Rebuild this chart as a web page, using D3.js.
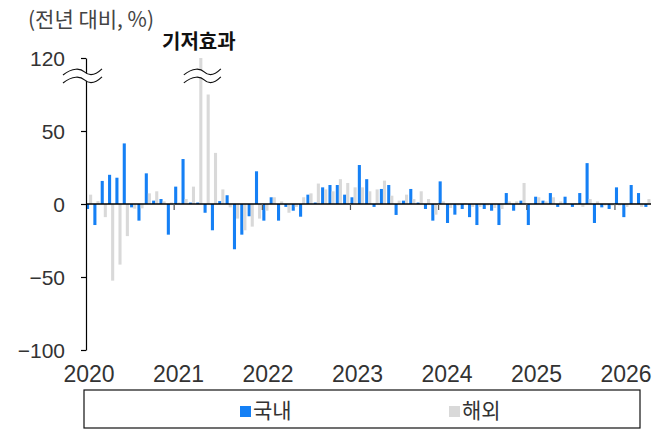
<!DOCTYPE html>
<html>
<head>
<meta charset="utf-8">
<script src="https://cdn.jsdelivr.net/npm/d3@7"></script>
<style>
  html, body { margin: 0; padding: 0; background: #fff; }
  svg text { font-family: "Liberation Sans Narrow", "Liberation Sans", "Noto Sans CJK KR", sans-serif; fill: #333; }
  .kr { font-family: "Noto Sans CJK KR", sans-serif; }
</style>
</head>
<body>
<div id="chart"></div>
<script>
// monthly, Jan 2020 .. May 2026 (YoY %)
const months = d3.range(77).map(i => `${2020 + Math.floor(i / 12)}-${String(i % 12 + 1).padStart(2, '0')}`);

const domestic = [
  -3.4, -14.4, 15.8, 20, 18, 41.5, -2.3, -11.4, 21, 2.3, 3.4, -21,
  11.9, 30.8, 1, 1, -6, -18, 2, 6, -31, -21, -8.4, 22.4,
  -11.4, 4.6, -11.4, -2, -4.6, -8.7, 6.4, 1, 11.4, 13, 13, 6.4,
  4.6, 26.7, 17, -2, 10.3, 13, -7.5, 2.3, 10.3, 1, -3.4, -11.4,
  15.5, -13, -7.3, -3.4, -9, -14.4, -3.4, -4.6, -14.4, 7.5, -4.6, 2.3,
  -14.4, 5, 2.3, 7.5, -2, 5, -2, 7.5, 28, -13, -2.3, -3.4,
  11.4, -9, 13, 7.5, -2
];

const overseas = [
  6.4, 2, -9, -52.5, -41.5, -22, -3.2, -3, 7.3, 8.7, 1.8, 1,
  1, 3.4, 11.9, 120, 75, 35, 10, -2.3, -10, -18, -15.5, -10,
  -4.6, 4.6, 1.8, -6, -2, 4.6, 7.3, 14, 10, 8.7, 17, 14.4,
  11.4, 11.4, 8.7, 10, 16, 5.7, 2.3, 6.4, 3.4, 8.7, 3.4, -7.3,
  1.8, -2.7, -1, 0.5, -2, -2, -1, -2.7, -3.4, 1.8, 1.8, 14.4,
  0, 4.6, 1.8, 4.6, 1.8, 0.5, 0.5, -2, 3.4, 1.8, -1, -1,
  -1, -2, 0.5, -2, 3.4
];

const yTicks = [-100, -50, 0, 50, 120];
const years = [2020, 2021, 2022, 2023, 2024, 2025, 2026];
const seriesNames = ['국내', '해외'];
const colors = ['#1580f5', '#d9d9d9'];

const W = 672, H = 435;
const svg = d3.select('#chart').append('svg')
  .attr('width', W).attr('height', H);

// scales
const x = d3.scaleBand().domain(months).range([86, 650.5]).paddingInner(0.16).paddingOuter(0).align(0);
const xSub = d3.scaleBand().domain([0, 1]).range([0, x.bandwidth()]);
// broken axis: linear up to 85, compressed above
const y = d3.scaleLinear().domain([-100, 85, 120]).range([350, 79.9, 58]);
const yearLabel = d3.scaleLinear().domain([2020, 2026]).range([89, 626]);

const rows = months.map((m, i) => ({m, vals: [domestic[i], overseas[i]]}));

// bars
const g = svg.append('g');
g.selectAll('g.month')
  .data(rows)
  .join('g')
  .attr('class', 'month')
  .attr('transform', d => `translate(${x(d.m)},0)`)
  .selectAll('rect')
  .data(d => d.vals.map((v, k) => ({v, k})))
  .join('rect')
  .attr('x', d => xSub(d.k))
  .attr('width', xSub.bandwidth())
  .attr('y', d => y(Math.max(0, d.v)))
  .attr('height', d => Math.abs(y(d.v) - y(0)))
  .attr('fill', d => colors[d.k]);

// zero line
svg.append('line')
  .attr('x1', 86).attr('x2', 651)
  .attr('y1', y(0)).attr('y2', y(0))
  .attr('stroke', '#000').attr('stroke-width', 1.3);

// year tick marks below zero line
svg.selectAll('line.ytick')
  .data(years.slice(1))
  .join('line')
  .attr('class', 'ytick')
  .attr('x1', d => x(`${d}-01`)).attr('x2', d => x(`${d}-01`))
  .attr('y1', y(0)).attr('y2', y(0) + 6)
  .attr('stroke', '#555').attr('stroke-width', 1.2);

// y axis
const yAxis = svg.append('g')
  .attr('transform', 'translate(86,0)')
  .call(d3.axisLeft(y).tickValues(yTicks).tickSize(5).tickSizeOuter(0).tickPadding(16));
yAxis.select('.domain').attr('stroke', '#000').attr('stroke-width', 1.2);
yAxis.selectAll('.tick line').attr('stroke', '#000').attr('stroke-width', 1.2);
yAxis.selectAll('.tick text')
  .attr('fill', '#333')
  .style('font-size', '21px')
  .attr('dy', '0.36em');

// x labels
svg.selectAll('text.year')
  .data(years)
  .join('text')
  .attr('class', 'year')
  .attr('x', d => yearLabel(d))
  .attr('y', 382)
  .attr('text-anchor', 'middle')
  .style('font-size', '23px')
  .text(d => d);

// axis break marks
function wave(x0, yc, w) {
  const a = 3;
  return `M${x0},${yc + a} C${x0 + w * 0.25},${yc - a * 1.5} ${x0 + w * 0.45},${yc - a * 1.2} ${x0 + w * 0.55},${yc} S${x0 + w * 0.8},${yc + a * 1.5} ${x0 + w},${yc - a}`;
}
const breakY1 = y(85) - 8, breakY2 = y(85);
const breaks = [
  {x0: 63, w: 39},
  {x0: x(months[15]) + xSub(1) + xSub.bandwidth() / 2 - 17, w: 37}
];
breaks.forEach(b => {
  // white band
  svg.append('path')
    .attr('d', wave(b.x0, breakY1, b.w) + ` L${b.x0 + b.w},${breakY2 - 3} ` +
      `C${b.x0 + b.w * 0.8},${breakY2 + 4.5} ${b.x0 + b.w * 0.55},${breakY2} ${b.x0 + b.w * 0.55},${breakY2} ` +
      `C${b.x0 + b.w * 0.45},${breakY2 - 3.6} ${b.x0 + b.w * 0.25},${breakY2 - 4.5} ${b.x0},${breakY2 + 3} Z`)
    .attr('fill', '#fff');
  [breakY1, breakY2].forEach(yy => {
    svg.append('path')
      .attr('d', wave(b.x0, yy, b.w))
      .attr('fill', 'none')
      .attr('stroke', '#111')
      .attr('stroke-width', 1.2);
  });
});

// titles
svg.append('text')
  .attr('class', 'kr')
  .attr('x', 28).attr('y', 27)
  .style('font-size', '21px')
  .style('fill', '#444')
  .text('(전년 대비, %)');

svg.append('text')
  .attr('class', 'kr')
  .attr('x', 162).attr('y', 49)
  .style('font-size', '20px')
  .style('font-weight', 'bold')
  .style('fill', '#111')
  .text('기저효과');

// legend
svg.append('rect')
  .attr('x', 84).attr('y', 390)
  .attr('width', 556).attr('height', 38)
  .attr('fill', 'none').attr('stroke', '#111').attr('stroke-width', 1.2);

const legendX = [240, 449];
const leg = svg.selectAll('g.leg')
  .data(seriesNames)
  .join('g')
  .attr('class', 'leg')
  .attr('transform', (d, i) => `translate(${legendX[i]},0)`);
leg.append('rect')
  .attr('x', 0).attr('y', 406)
  .attr('width', 11).attr('height', 11)
  .attr('fill', (d, i) => colors[i]);
leg.append('text')
  .attr('class', 'kr')
  .attr('x', 13).attr('y', 418)
  .style('font-size', '21px')
  .text(d => d);
</script>
</body>
</html>
